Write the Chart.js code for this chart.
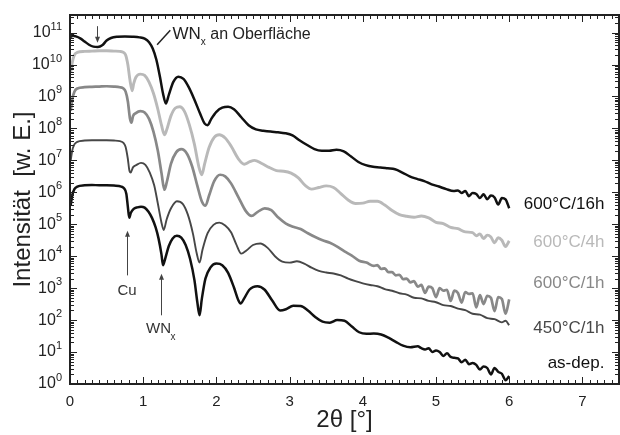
<!DOCTYPE html>
<html>
<head>
<meta charset="utf-8">
<script src="https://cdn.jsdelivr.net/npm/chart.js@4.4.0/dist/chart.umd.min.js"></script>
<style>
  html, body { margin: 0; padding: 0; background: #fff; }
  #wrap { width: 620px; height: 435px; }
</style>
</head>
<body>
<div id="wrap"><canvas id="xrr" width="620" height="435"></canvas></div>
<script>
// Axis ticks
const xTicks = [0, 1, 2, 3, 4, 5, 6, 7];
const yDecades = [0, 1, 2, 3, 4, 5, 6, 7, 8, 9, 10, 11];

// Curves: [2theta in deg, log10 of intensity]
const curve600_16h = [[0.01,10.86],[0.04,10.9],[0.08,10.88],[0.14,10.82],[0.2,10.72],[0.26,10.62],[0.32,10.56],[0.38,10.55],[0.44,10.6],[0.5,10.75],[0.56,10.83],[0.65,10.87],[0.75,10.88],[0.85,10.87],[0.95,10.85],[1.02,10.81],[1.08,10.7],[1.13,10.5],[1.18,10.15],[1.23,9.6],[1.27,9.1],[1.31,8.78],[1.35,9.05],[1.41,9.45],[1.48,9.62],[1.55,9.55],[1.62,9.3],[1.7,8.9],[1.78,8.45],[1.84,8.15],[1.88,8.1],[1.93,8.3],[2.0,8.52],[2.08,8.65],[2.16,8.68],[2.24,8.6],[2.34,8.35],[2.44,8.1],[2.54,7.97],[2.64,7.93],[2.74,7.9],[2.84,7.88],[2.94,7.85],[3.04,7.78],[3.14,7.62],[3.24,7.48],[3.34,7.35],[3.44,7.3],[3.54,7.3],[3.64,7.33],[3.74,7.28],[3.84,7.12],[3.94,6.95],[4.04,6.85],[4.14,6.8],[4.24,6.78],[4.34,6.75],[4.44,6.72],[4.54,6.62],[4.64,6.5],[4.74,6.42],[4.84,6.35],[4.94,6.25],[5.04,6.18],[5.14,6.1],[5.24,6.04],[5.3,6.06],[5.35,5.98],[5.4,6.04],[5.45,5.88],[5.5,5.98],[5.55,5.95],[5.6,5.82],[5.65,5.94],[5.7,5.78],[5.75,5.9],[5.8,5.84],[5.85,5.62],[5.9,5.82],[5.95,5.78],[6.0,5.5]];

const curve600_4h = [[0.01,9.75],[0.03,10.05],[0.06,10.3],[0.1,10.38],[0.2,10.41],[0.3,10.42],[0.4,10.43],[0.5,10.43],[0.6,10.42],[0.68,10.41],[0.73,10.38],[0.76,10.3],[0.79,10.0],[0.82,9.5],[0.85,9.18],[0.87,9.4],[0.9,9.6],[0.96,9.7],[1.02,9.66],[1.08,9.45],[1.14,9.1],[1.2,8.6],[1.25,8.1],[1.29,7.8],[1.32,7.95],[1.38,8.4],[1.44,8.64],[1.5,8.68],[1.56,8.55],[1.63,8.12],[1.7,7.5],[1.76,6.8],[1.8,6.55],[1.84,6.9],[1.9,7.4],[1.97,7.72],[2.04,7.8],[2.12,7.7],[2.2,7.45],[2.3,7.05],[2.38,6.88],[2.45,6.95],[2.52,7.0],[2.62,6.9],[2.72,6.78],[2.82,6.68],[2.92,6.66],[3.02,6.6],[3.12,6.45],[3.22,6.2],[3.3,6.1],[3.4,6.15],[3.5,6.2],[3.6,6.15],[3.7,5.96],[3.8,5.76],[3.9,5.65],[4.0,5.66],[4.1,5.72],[4.2,5.72],[4.3,5.6],[4.4,5.43],[4.5,5.3],[4.6,5.25],[4.7,5.22],[4.8,5.26],[4.9,5.2],[5.0,5.06],[5.1,5.02],[5.2,4.9],[5.3,4.86],[5.4,4.76],[5.5,4.74],[5.55,4.64],[5.6,4.7],[5.65,4.55],[5.7,4.66],[5.75,4.6],[5.8,4.42],[5.85,4.58],[5.9,4.5],[5.95,4.3],[6.0,4.48]];

const curve600_1h = [[0.01,8.55],[0.03,8.9],[0.06,9.15],[0.1,9.25],[0.2,9.29],[0.3,9.3],[0.4,9.31],[0.5,9.32],[0.6,9.31],[0.68,9.29],[0.73,9.25],[0.76,9.15],[0.79,8.85],[0.82,8.3],[0.84,8.18],[0.86,8.38],[0.9,8.48],[0.96,8.54],[1.02,8.5],[1.08,8.3],[1.14,7.9],[1.2,7.3],[1.25,6.6],[1.29,6.08],[1.32,6.3],[1.38,6.9],[1.45,7.25],[1.52,7.35],[1.6,7.2],[1.67,6.8],[1.74,6.2],[1.8,5.72],[1.85,5.58],[1.9,5.9],[1.97,6.35],[2.05,6.55],[2.12,6.5],[2.2,6.28],[2.3,5.85],[2.4,5.42],[2.48,5.26],[2.56,5.38],[2.66,5.5],[2.75,5.44],[2.85,5.2],[2.95,5.02],[3.05,4.92],[3.15,4.85],[3.25,4.72],[3.35,4.6],[3.45,4.5],[3.55,4.42],[3.65,4.3],[3.75,4.15],[3.85,4.02],[3.95,3.86],[4.05,3.8],[4.15,3.7],[4.2,3.72],[4.25,3.6],[4.3,3.62],[4.35,3.5],[4.4,3.5],[4.45,3.4],[4.5,3.42],[4.55,3.28],[4.6,3.3],[4.65,3.18],[4.7,3.22],[4.75,3.05],[4.8,3.1],[4.85,2.85],[4.9,3.05],[4.95,3.0],[5.0,2.72],[5.05,3.0],[5.1,2.92],[5.15,2.95],[5.2,2.6],[5.25,2.92],[5.3,2.85],[5.35,2.55],[5.4,2.88],[5.45,2.82],[5.5,2.84],[5.55,2.4],[5.6,2.78],[5.65,2.5],[5.7,2.76],[5.75,2.7],[5.8,2.28],[5.85,2.72],[5.9,2.66],[5.95,2.2],[6.0,2.65]];

const curve450_1h = [[0.01,7.0],[0.03,7.3],[0.06,7.5],[0.1,7.58],[0.2,7.62],[0.3,7.63],[0.4,7.63],[0.5,7.63],[0.6,7.62],[0.68,7.6],[0.73,7.55],[0.76,7.42],[0.79,7.05],[0.81,6.7],[0.83,6.62],[0.86,6.78],[0.91,6.86],[0.97,6.92],[1.03,6.86],[1.09,6.62],[1.15,6.22],[1.2,5.65],[1.25,5.05],[1.28,4.82],[1.32,5.15],[1.38,5.5],[1.46,5.72],[1.54,5.64],[1.61,5.3],[1.68,4.7],[1.73,4.1],[1.77,3.8],[1.81,4.2],[1.88,4.72],[1.96,4.98],[2.04,5.05],[2.12,4.96],[2.2,4.75],[2.27,4.38],[2.34,4.08],[2.41,4.18],[2.5,4.35],[2.6,4.4],[2.7,4.26],[2.8,4.0],[2.9,3.83],[3.0,3.8],[3.1,3.84],[3.2,3.77],[3.3,3.64],[3.4,3.54],[3.5,3.49],[3.6,3.46],[3.7,3.4],[3.8,3.3],[3.9,3.22],[4.0,3.15],[4.1,3.1],[4.2,3.06],[4.3,2.97],[4.4,2.92],[4.5,2.84],[4.6,2.8],[4.7,2.7],[4.8,2.68],[4.9,2.6],[5.0,2.56],[5.1,2.47],[5.2,2.44],[5.3,2.36],[5.4,2.31],[5.5,2.2],[5.6,2.17],[5.7,2.06],[5.8,2.03],[5.9,1.93],[5.95,1.98],[6.0,1.84]];

const curveAsDep = [[0.01,5.6],[0.03,5.9],[0.06,6.1],[0.1,6.18],[0.2,6.22],[0.3,6.23],[0.4,6.22],[0.5,6.22],[0.6,6.21],[0.7,6.18],[0.74,6.12],[0.77,5.95],[0.79,5.55],[0.81,5.2],[0.83,5.35],[0.87,5.48],[0.92,5.53],[0.97,5.55],[1.02,5.52],[1.07,5.4],[1.12,5.2],[1.17,4.9],[1.21,4.55],[1.25,4.05],[1.27,3.72],[1.3,3.92],[1.35,4.32],[1.4,4.55],[1.46,4.64],[1.52,4.58],[1.58,4.35],[1.64,3.92],[1.7,3.25],[1.74,2.55],[1.77,2.15],[1.8,2.65],[1.85,3.3],[1.92,3.65],[2.0,3.77],[2.08,3.72],[2.16,3.48],[2.24,3.02],[2.3,2.62],[2.33,2.52],[2.38,2.68],[2.45,2.95],[2.56,3.06],[2.66,2.95],[2.76,2.62],[2.87,2.3],[2.95,2.34],[3.05,2.45],[3.15,2.44],[3.25,2.3],[3.35,2.1],[3.45,1.95],[3.55,1.92],[3.65,2.0],[3.75,1.98],[3.85,1.8],[3.95,1.62],[4.05,1.57],[4.15,1.58],[4.25,1.55],[4.35,1.45],[4.45,1.32],[4.55,1.2],[4.65,1.15],[4.75,1.18],[4.8,1.12],[4.85,1.08],[4.9,1.12],[4.95,1.0],[5.0,1.05],[5.05,1.0],[5.1,0.88],[5.15,0.96],[5.2,0.85],[5.25,0.82],[5.3,0.8],[5.35,0.68],[5.4,0.76],[5.45,0.62],[5.5,0.66],[5.55,0.6],[5.6,0.45],[5.65,0.55],[5.7,0.5],[5.75,0.3],[5.8,0.5],[5.85,0.38],[5.9,0.32],[5.95,0.12],[6.0,0.25]];

const seriesNames = ['600°C/16h', '600°C/4h', '600°C/1h', '450°C/1h', 'as-dep.'];
const seriesColors = ['#111111', '#b9b9b9', '#888888', '#474747', '#111111'];
const seriesWidths = [2.5, 2.9, 2.7, 1.9, 2.5];
const seriesData = [curve600_16h, curve600_4h, curve600_1h, curve450_1h, curveAsDep];
// label position at the right end: [2theta, log10 intensity]
const labelAnchors = [[7.3, 5.64], [7.3, 4.42], [7.3, 3.15], [7.3, 1.74], [7.3, 0.65]];

const FONT = '"Liberation Sans", Arial, Helvetica, sans-serif';
const Y_MAX_EXP = 11.55;

function toPoints(pairs) {
    return pairs.map(p => ({ x: p[0], y: Math.pow(10, p[1]) }));
}

// Frame, inward ticks, y labels with exponents, annotations
const decorations = {
    id: 'decorations',
    afterDraw(chart) {
        const ctx = chart.ctx;
        const a = chart.chartArea;
        const xs = chart.scales.x;
        const ys = chart.scales.y;
        const px = v => xs.getPixelForValue(v);
        const py = e => ys.getPixelForValue(Math.pow(10, e));

        ctx.save();
        ctx.strokeStyle = '#222';
        ctx.lineWidth = 1;

        // x ticks, bottom and top
        for (let i = 0; i <= 75; i++) {
            const p = Math.round(px(i / 10)) + 0.5;
            const len = i % 10 === 0 ? 7 : 4;
            ctx.beginPath();
            ctx.moveTo(p, a.bottom); ctx.lineTo(p, a.bottom - len);
            ctx.moveTo(p, a.top); ctx.lineTo(p, a.top + len);
            ctx.stroke();
        }
        // y ticks, left and right
        const yMax = Math.pow(10, Y_MAX_EXP);
        for (const n of yDecades) {
            for (let m = 1; m <= 9; m++) {
                const v = m * Math.pow(10, n);
                if (v > yMax) break;
                const p = Math.round(ys.getPixelForValue(v)) + 0.5;
                const len = m === 1 ? 7 : 4;
                ctx.beginPath();
                ctx.moveTo(a.left, p); ctx.lineTo(a.left + len, p);
                ctx.moveTo(a.right, p); ctx.lineTo(a.right - len, p);
                ctx.stroke();
            }
        }

        ctx.lineWidth = 2;
        ctx.strokeRect(a.left, a.top, a.right - a.left, a.bottom - a.top);

        // y tick labels: 10 with raised exponent
        ctx.fillStyle = '#222';
        ctx.textBaseline = 'middle';
        for (const n of yDecades) {
            const y = py(n);
            ctx.font = '11px ' + FONT;
            const sup = String(n);
            const supW = ctx.measureText(sup).width;
            const right = a.left - 8;
            ctx.textAlign = 'left';
            ctx.fillText(sup, right - supW, y - 6);
            ctx.font = '16px ' + FONT;
            ctx.textAlign = 'right';
            ctx.fillText('10', right - supW, y);
        }

        // arrows
        function arrow(x, y1, y2) {
            const dir = y2 > y1 ? 1 : -1;
            ctx.strokeStyle = '#444';
            ctx.fillStyle = '#444';
            ctx.lineWidth = 1;
            ctx.beginPath();
            ctx.moveTo(x + 0.5, y1); ctx.lineTo(x + 0.5, y2 - dir * 4);
            ctx.stroke();
            ctx.beginPath();
            ctx.moveTo(x + 0.5, y2);
            ctx.lineTo(x - 2, y2 - dir * 6);
            ctx.lineTo(x + 3, y2 - dir * 6);
            ctx.closePath();
            ctx.fill();
        }
        arrow(Math.round(px(0.37)), py(11.2), py(10.68));
        arrow(Math.round(px(0.78)), py(3.4), py(4.8));
        arrow(Math.round(px(1.245)), py(2.15), py(3.45));

        // slash pointing at the surface WNx dip
        ctx.strokeStyle = '#222';
        ctx.lineWidth = 1.5;
        ctx.beginPath();
        ctx.moveTo(px(1.19), py(10.62));
        ctx.lineTo(px(1.37), py(11.07));
        ctx.stroke();

        ctx.fillStyle = '#222';
        ctx.textAlign = 'left';
        ctx.font = '17px ' + FONT;
        let tx = px(1.4);
        const ty = py(10.95);
        ctx.fillText('WN', tx, ty);
        tx += ctx.measureText('WN').width;
        ctx.font = '10px ' + FONT;
        ctx.fillText('x', tx, ty + 8);
        tx += ctx.measureText('x').width;
        ctx.font = '16px ' + FONT;
        ctx.fillText(' an Oberfläche', tx, ty);

        ctx.fillStyle = '#333';
        ctx.textAlign = 'center';
        ctx.font = '15px ' + FONT;
        ctx.fillText('Cu', px(0.78), py(2.93));
        ctx.fillText('WN', px(1.21), py(1.72));
        ctx.font = '10px ' + FONT;
        ctx.textAlign = 'left';
        ctx.fillText('x', px(1.21) + 12, py(1.46));

        // series labels
        ctx.textAlign = 'right';
        ctx.font = '17px ' + FONT;
        seriesNames.forEach((name, i) => {
            ctx.fillStyle = seriesColors[i];
            ctx.fillText(name, px(labelAnchors[i][0]), py(labelAnchors[i][1]));
        });

        ctx.restore();
    }
};

new Chart(document.getElementById('xrr'), {
    type: 'line',
    data: {
        datasets: seriesData.map((d, i) => ({
            label: seriesNames[i],
            data: toPoints(d),
            borderColor: seriesColors[i],
            borderWidth: seriesWidths[i],
            pointRadius: 0,
            fill: false,
            cubicInterpolationMode: 'monotone',
            borderJoinStyle: 'round'
        }))
    },
    options: {
        responsive: false,
        animation: false,
        devicePixelRatio: 1,
        layout: { padding: { top: 15, right: 1, left: 0, bottom: 0 } },
        plugins: {
            legend: { display: false },
            tooltip: { enabled: false }
        },
        scales: {
            x: {
                type: 'linear',
                min: 0,
                max: 7.5,
                afterBuildTicks: s => { s.ticks = xTicks.map(v => ({ value: v })); },
                afterFit: s => { s.height = 51; },
                grid: { display: false, drawTicks: false },
                border: { display: false },
                ticks: {
                    color: '#222',
                    padding: 9,
                    font: { family: FONT, size: 15 }
                },
                title: {
                    display: true,
                    text: '2θ [°]',
                    color: '#222',
                    font: { family: FONT, size: 24 },
                    padding: { top: 0, bottom: 0 }
                }
            },
            y: {
                type: 'logarithmic',
                min: 1,
                max: Math.pow(10, Y_MAX_EXP),
                afterBuildTicks: s => { s.ticks = yDecades.map(n => ({ value: Math.pow(10, n) })); },
                afterFit: s => { s.width = 70; },
                grid: { display: false, drawTicks: false },
                border: { display: false },
                ticks: { display: false },
                title: {
                    display: true,
                    text: 'Intensität  [w. E.]',
                    color: '#222',
                    font: { family: FONT, size: 24 },
                    padding: { top: 9, bottom: 0 }
                }
            }
        }
    },
    plugins: [decorations]
});
</script>
</body>
</html>
